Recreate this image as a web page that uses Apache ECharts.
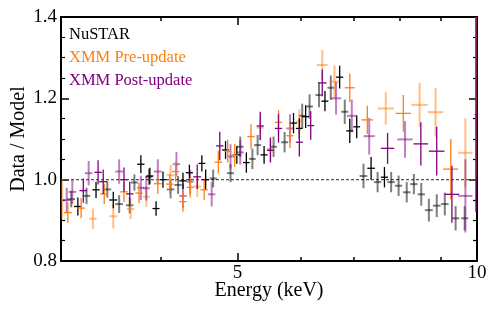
<!DOCTYPE html>
<html><head><meta charset="utf-8">
<script src="https://cdn.jsdelivr.net/npm/echarts@6/dist/echarts.min.js"></script>
<style>html,body{margin:0;padding:0;background:#fff}#c{width:498px;height:315px}</style>
</head><body><div id="c"></div>
<script>
// [energy keV, half bin width keV, ratio, error]
const nustarA = [
 [3.15,0.035,0.934,0.022],[3.32,0.035,0.975,0.02],[3.49,0.04,0.95,0.02],[3.78,0.04,1.038,0.022],
 [3.88,0.04,1.009,0.02],[3.95,0.04,0.929,0.018],[4.03,0.04,1.0,0.02],[4.27,0.045,0.997,0.02],
 [4.35,0.045,1.017,0.02],[4.51,0.045,1.04,0.02],[4.56,0.045,1.0,0.025],[4.83,0.05,1.073,0.022],
 [4.99,0.05,1.061,0.022],[5.13,0.05,1.042,0.025],[5.40,0.055,1.061,0.022],[5.88,0.06,1.139,0.025],
 [5.98,0.06,1.126,0.025],[6.09,0.06,1.155,0.028],[6.44,0.065,1.193,0.025],[6.72,0.07,1.252,0.028],
 [6.92,0.07,1.12,0.03],[7.06,0.07,1.13,0.028],[7.36,0.08,1.028,0.028],[7.65,0.08,1.006,0.025]
];
const nustarB = [
 [3.09,0.035,0.952,0.02],[3.23,0.035,0.96,0.02],[3.43,0.04,0.976,0.02],[3.55,0.04,0.94,0.022],
 [3.66,0.04,0.937,0.02],[3.71,0.04,0.993,0.02],[3.87,0.04,1.007,0.02],[4.12,0.045,0.976,0.022],
 [4.21,0.045,0.987,0.022],[4.66,0.05,1.003,0.022],[4.90,0.05,1.016,0.022],[5.04,0.05,1.081,0.025],
 [5.22,0.05,1.051,0.025],[5.30,0.055,1.085,0.025],[5.55,0.055,1.081,0.025],[5.73,0.06,1.092,0.025],
 [6.03,0.06,1.157,0.03],[6.16,0.06,1.18,0.03],[6.33,0.065,1.208,0.03],[6.55,0.065,1.226,0.03],
 [6.82,0.07,1.167,0.03],[7.20,0.08,1.009,0.03],[7.50,0.08,0.994,0.025],[7.80,0.085,0.994,0.025],
 [7.97,0.085,0.985,0.025],[8.16,0.09,0.969,0.025],[8.33,0.09,0.989,0.025],[8.51,0.09,0.964,0.028],
 [8.70,0.1,0.925,0.028],[8.90,0.1,0.936,0.028],[9.11,0.1,0.94,0.028],[9.40,0.1,0.905,0.03],
 [9.65,0.1,0.905,0.03]
];
const preA = [
 [3.06,0.035,0.919,0.025],[3.18,0.035,0.93,0.025],[3.40,0.04,0.965,0.025],[3.60,0.04,0.97,0.025],
 [3.76,0.04,0.967,0.025],[3.97,0.045,0.99,0.025],[4.11,0.045,0.989,0.025],[4.18,0.045,1.02,0.025],
 [4.27,0.045,0.946,0.025],[4.36,0.045,0.981,0.025],[4.54,0.05,0.975,0.025],[4.73,0.05,1.043,0.028],
 [4.86,0.05,1.07,0.028],[4.96,0.05,1.06,0.028],[5.20,0.055,1.106,0.03],[5.50,0.055,1.075,0.03],
 [5.63,0.06,1.141,0.03],[5.82,0.06,1.108,0.03],[6.92,0.1,1.226,0.035],[7.28,0.12,1.147,0.035],
 [8.08,0.18,1.163,0.045],[9.27,0.2,1.026,0.074]
];
const preB = [
 [3.01,0.02,0.95,0.045],[3.29,0.035,0.904,0.025],[3.49,0.04,0.91,0.03],[3.67,0.04,0.928,0.025],
 [3.84,0.04,0.958,0.025],[4.12,0.045,1.011,0.025],[4.45,0.05,0.983,0.025],[5.34,0.055,1.128,0.03],
 [5.98,0.06,1.143,0.03],[6.39,0.1,1.282,0.037],[6.62,0.1,1.241,0.04],[7.68,0.18,1.175,0.04],
 [8.47,0.2,1.184,0.054],[8.87,0.2,1.166,0.06],[9.67,0.2,1.066,0.085],[9.97,0.04,1.205,0.2]
];
const postA = [
 [3.20,0.035,0.973,0.03],[3.34,0.035,1.018,0.03],[3.39,0.04,0.995,0.03],[3.60,0.04,1.0,0.03],
 [3.66,0.04,0.965,0.03],[4.45,0.05,1.007,0.03],[4.75,0.05,1.083,0.035],[5.34,0.055,1.132,0.035],
 [5.50,0.055,1.072,0.03],[5.63,0.06,1.126,0.035],[5.98,0.06,1.092,0.035],[6.18,0.06,1.133,0.035],
 [6.39,0.08,1.238,0.033],[7.72,0.15,1.077,0.038],[8.50,0.18,1.088,0.053],[8.90,0.2,1.07,0.06],
 [9.30,0.2,0.964,0.07],[9.97,0.04,1.16,0.24]
];
const postB = [
 [3.05,0.035,0.95,0.03],[3.10,0.035,0.97,0.03],[3.25,0.035,1.016,0.03],[3.55,0.04,1.02,0.03],
 [3.78,0.04,0.98,0.03],[3.84,0.04,0.979,0.03],[3.97,0.045,1.02,0.03],[4.19,0.045,1.038,0.03],
 [4.27,0.045,0.96,0.03],[4.36,0.045,0.995,0.03],[4.64,0.05,0.964,0.03],[4.90,0.05,1.057,0.03],
 [5.04,0.05,1.067,0.03],[5.82,0.06,1.126,0.035],[6.65,0.1,1.2,0.04],[6.96,0.1,1.157,0.04],
 [7.32,0.12,1.107,0.045],[8.12,0.18,1.099,0.045],[9.67,0.2,0.96,0.09]
];
const xMajorTicks = [5, 10];
const xMinorTicks = [4, 6, 7, 8, 9];
const legendNames = ['NuSTAR', 'XMM Pre-update', 'XMM Post-update'];
const legendColors = ['#000000', '#ff7f0e', '#800080'];

const FONT = '"Liberation Serif", "DejaVu Serif", serif';
const chart = echarts.init(document.getElementById('c'), null, {renderer: 'canvas'});

function errSeries(name, data, color, width, opacity) {
  return {
    type: 'custom', name: name, data: data, clip: true, silent: true,
    xAxisIndex: 0, yAxisIndex: 0,
    encode: {x: 0, y: 2},
    renderItem: function (params, api) {
      const e = api.value(0), de = api.value(1), y = api.value(2), dy = api.value(3);
      const l = api.coord([e - de, y]), r = api.coord([e + de, y]);
      const t = api.coord([e, y + dy]), b = api.coord([e, y - dy]);
      const st = {stroke: color, lineWidth: width, opacity: opacity};
      return {type: 'group', children: [
        {type: 'line', shape: {x1: l[0], y1: l[1], x2: r[0], y2: r[1]}, style: st},
        {type: 'line', shape: {x1: t[0], y1: t[1], x2: b[0], y2: b[1]}, style: st}
      ]};
    }
  };
}

function xAx(pos, ticks, len, labels) {
  return {
    type: 'log', logBase: 10, min: 3, max: 10, position: pos,
    axisLine: {show: labels !== null || pos === 'top', onZero: false, lineStyle: {color: '#000', width: 2}},
    axisTick: {show: true, inside: true, length: len, customValues: ticks, lineStyle: {color: '#000', width: 1.5}},
    axisLabel: labels ? {show: true, customValues: labels, margin: 3, color: '#000',
      fontFamily: FONT, fontSize: 19, formatter: v => String(Math.round(v))} : {show: false},
    splitLine: {show: false}, minorTick: {show: false}
  };
}

const option = {
  animation: false,
  backgroundColor: '#fff',
  grid: {left: 61, right: 21, top: 17, bottom: 54, containLabel: false},
  xAxis: [
    xAx('bottom', xMajorTicks, 8, xMajorTicks),
    Object.assign(xAx('bottom', xMinorTicks, 4, null), {axisLine: {show: false}}),
    xAx('top', xMajorTicks, 8, null),
    Object.assign(xAx('top', xMinorTicks, 4, null), {axisLine: {show: false}})
  ],
  yAxis: [
    {type: 'value', min: 0.8, max: 1.4, interval: 0.2, position: 'left',
     axisLine: {show: true, lineStyle: {color: '#000', width: 2}},
     axisTick: {show: true, inside: true, length: 8, lineStyle: {color: '#000', width: 1.5}},
     minorTick: {show: true, splitNumber: 4, length: 4, lineStyle: {color: '#000', width: 1.2}},
     axisLabel: {show: true, margin: 4, color: '#000', fontFamily: FONT, fontSize: 19,
       formatter: v => v.toFixed(1)},
     splitLine: {show: false}},
    {type: 'value', min: 0.8, max: 1.4, interval: 0.2, position: 'right',
     axisLine: {show: true, lineStyle: {color: '#000', width: 2}},
     axisTick: {show: true, inside: true, length: 8, lineStyle: {color: '#000', width: 1.5}},
     minorTick: {show: true, splitNumber: 4, length: 4, lineStyle: {color: '#000', width: 1.2}},
     axisLabel: {show: false}, splitLine: {show: false}}
  ],
  series: [
    {type: 'line', data: [[3, 1], [10, 1]], symbol: 'none', silent: true,
     lineStyle: {color: '#555', width: 1.2, type: [3, 2]}, z: 1},
    errSeries('nuB', nustarB, '#000000', 2, 0.5),
    errSeries('preB', preB, '#ff7f0e', 2, 0.5),
    errSeries('postB', postB, '#800080', 2, 0.5),
    errSeries('nuA', nustarA, '#000000', 1.3, 1),
    errSeries('preA', preA, '#ff7f0e', 1.3, 1),
    errSeries('postA', postA, '#800080', 1.3, 1)
  ],
  graphic: [
    {type: 'text', left: 69, top: 26, style: {text: legendNames[0], fill: legendColors[0], font: '16.5px ' + FONT}},
    {type: 'text', left: 69, top: 49, style: {text: legendNames[1], fill: legendColors[1], font: '16.5px ' + FONT}},
    {type: 'text', left: 69, top: 72, style: {text: legendNames[2], fill: legendColors[2], font: '16.5px ' + FONT}},
    {type: 'text', x: 269, y: 291, style: {text: 'Energy (keV)', fill: '#000', font: '20px ' + FONT,
      align: 'center', verticalAlign: 'middle'}},
    {type: 'text', x: 19, y: 139, rotation: Math.PI / 2, style: {text: 'Data / Model', fill: '#000',
      font: '20px ' + FONT, align: 'center', verticalAlign: 'middle'}}
  ]
};
chart.setOption(option);
</script></body></html>
